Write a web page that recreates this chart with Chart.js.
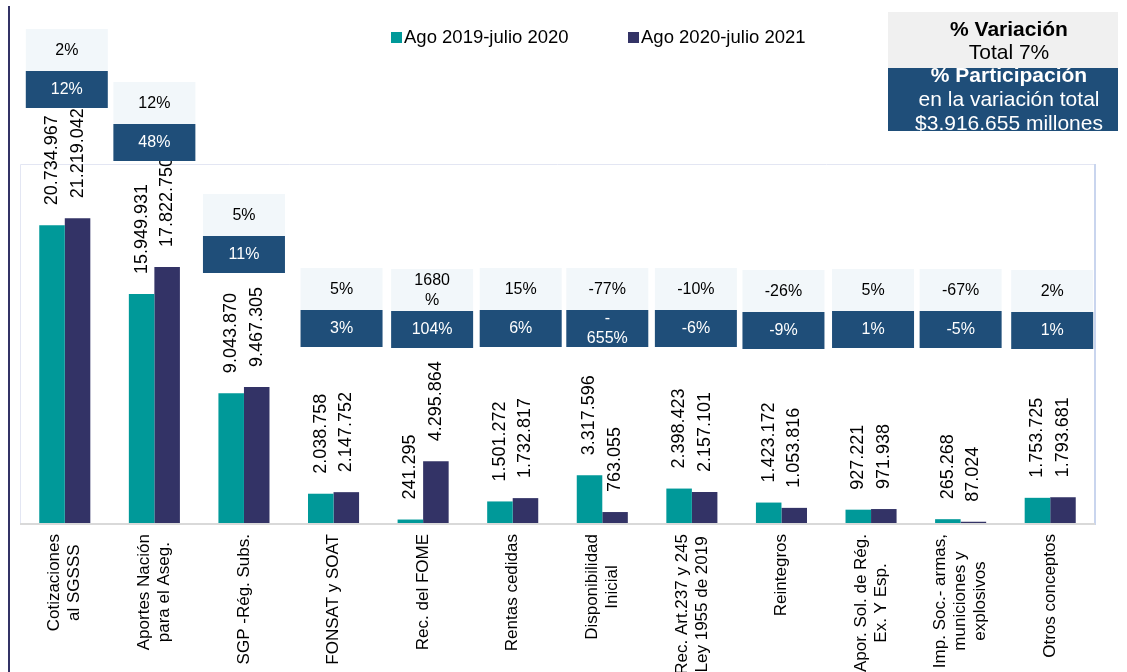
<!DOCTYPE html>
<html>
<head>
<meta charset="utf-8">
<script src="https://cdn.jsdelivr.net/npm/chart.js@4/dist/chart.umd.min.js"></script>
<style>
html,body{margin:0;padding:0;background:#fff;overflow:hidden}
#wrap{width:1127px;height:672px;position:relative}
</style>
</head>
<body>
<div id="wrap"><canvas id="c" width="1127" height="672"></canvas></div>
<script>
// ---- data ----
const categories = [
  ['Cotizaciones','al SGSSS'],
  ['Aportes Nación','para el Aseg.'],
  ['SGP -Rég. Subs.'],
  ['FONSAT y SOAT'],
  ['Rec. del FOME'],
  ['Rentas cedidas'],
  ['Disponibilidad','Inicial'],
  ['Rec. Art.237 y 245','Ley 1955 de 2019'],
  ['Reintegros'],
  ['Apor. Sol. de Rég.','Ex. Y Esp.'],
  ['Imp. Soc.- armas,','municiones y','explosivos'],
  ['Otros conceptos']
];
const seriesNames = ['Ago 2019-julio 2020','Ago 2020-julio 2021'];
const values2019 = [20734967, 15949931, 9043870, 2038758, 241295, 1501272, 3317596, 2398423, 1423172, 927221, 265268, 1753725];
const values2020 = [21219042, 17822750, 9467305, 2147752, 4295864, 1732817, 763055, 2157101, 1053816, 971938, 87024, 1793681];
const variationPct = ['2%','12%','5%','5%','1680\n%','15%','-77%','-10%','-26%','5%','-67%','2%'];
const participationPct = ['12%','48%','11%','3%','104%','6%','-\n655%','-6%','-9%','1%','-5%','1%'];
const summaryVariation = ['% Variación','Total 7%'];
const summaryParticipation = ['% Participación','en la variación total','$3.916.655 millones'];
const yMax = 25000000;

// ---- layout (positions only) ----
const boxTop = [29, 82, 194, 268, 269, 268, 268, 268, 270, 269, 269, 270];
const boxShift = [2, 0, 0, 8, 9, 8, 5, 4, 2, 2, 0, 2];
const FONT = '"Liberation Sans", Arial, sans-serif';
const TEAL = '#009999', NAVY = '#333366', DARKBOX = '#1f4e79', LIGHTBOX = '#f2f7fa';

function fmt(n){ return String(n).replace(/\B(?=(\d{3})+(?!\d))/g,'.'); }

const decor = {
  id: 'decor',
  afterDatasetsDraw(chart){
    const {ctx, chartArea:a, scales:{x}} = chart;
    ctx.save();
    // plot frame
    ctx.lineWidth = 1;
    ctx.strokeStyle = '#e3e6f3';
    ctx.beginPath();
    ctx.moveTo(a.left+0.5, a.bottom); ctx.lineTo(a.left+0.5, a.top+0.5); ctx.lineTo(a.right, a.top+0.5);
    ctx.stroke();
    ctx.strokeStyle = '#c9d5ee'; ctx.lineWidth = 2;
    ctx.beginPath(); ctx.moveTo(a.right, a.top); ctx.lineTo(a.right, a.bottom+2); ctx.stroke();
    ctx.strokeStyle = '#d9d9d9'; ctx.lineWidth = 2;
    ctx.beginPath(); ctx.moveTo(a.left, a.bottom+1); ctx.lineTo(a.right, a.bottom+1); ctx.stroke();
    // left rule
    ctx.strokeStyle = '#333366'; ctx.lineWidth = 2;
    ctx.beginPath(); ctx.moveTo(9, 6); ctx.lineTo(9, 672); ctx.stroke();

    // value labels
    ctx.fillStyle = '#000';
    ctx.font = '18px ' + FONT;
    ctx.textAlign = 'left'; ctx.textBaseline = 'middle';
    chart.data.datasets.forEach((ds, di) => {
      chart.getDatasetMeta(di).data.forEach((bar, i) => {
        ctx.save();
        ctx.translate(bar.x, bar.y - 20);
        ctx.rotate(-Math.PI/2);
        ctx.fillText(fmt(ds.data[i]), 0, 0);
        ctx.restore();
      });
    });

    // category boxes
    ctx.font = '16px ' + FONT;
    ctx.textAlign = 'center'; ctx.textBaseline = 'middle';
    categories.forEach((c, i) => {
      const cx = x.getPixelForValue(i) + boxShift[i];
      const t = boxTop[i];
      ctx.fillStyle = LIGHTBOX; ctx.fillRect(cx-41, t, 82, 42);
      ctx.fillStyle = DARKBOX; ctx.fillRect(cx-41, t+42, 82, 37);
      const l1 = variationPct[i].split('\n');
      ctx.fillStyle = '#000';
      l1.forEach((s, k) => ctx.fillText(s, cx, t + 22 + (k - (l1.length-1)/2)*20));
      const l2 = participationPct[i].split('\n');
      ctx.fillStyle = '#fff';
      l2.forEach((s, k) => ctx.fillText(s, cx, t + 42 + 19 + (k - (l2.length-1)/2)*20));
    });

    // x category labels
    ctx.font = '17px ' + FONT;
    ctx.fillStyle = '#000';
    ctx.textAlign = 'center'; ctx.textBaseline = 'middle';
    categories.forEach((lines, i) => {
      const px = x.getPixelForValue(i);
      const W = Math.max(...lines.map(s => ctx.measureText(s).width));
      const cy = a.bottom + 11 + W/2;
      lines.forEach((s, k) => {
        ctx.save();
        ctx.translate(px + (k - (lines.length-1)/2)*20, cy);
        ctx.rotate(-Math.PI/2);
        ctx.fillText(s, 0, 0);
        ctx.restore();
      });
    });

    // legend
    ctx.font = '18.5px ' + FONT;
    ctx.textAlign = 'left'; ctx.textBaseline = 'middle';
    const legX = [391, 628];
    chart.data.datasets.forEach((ds, di) => {
      ctx.fillStyle = ds.backgroundColor;
      ctx.fillRect(legX[di], 32, 11, 11);
      ctx.fillStyle = '#000';
      ctx.fillText(ds.label, legX[di] + 13, 38);
    });

    // summary box
    ctx.fillStyle = '#f0f0f0'; ctx.fillRect(888, 12, 230, 56);
    ctx.fillStyle = DARKBOX; ctx.fillRect(888, 68, 230, 63);
    ctx.textAlign = 'center'; ctx.textBaseline = 'alphabetic';
    ctx.fillStyle = '#000';
    ctx.font = 'bold 21px ' + FONT; ctx.fillText(summaryVariation[0], 1009, 36);
    ctx.font = '21px ' + FONT; ctx.fillText(summaryVariation[1], 1009, 59);
    ctx.save();
    ctx.beginPath(); ctx.rect(888, 68, 230, 63); ctx.clip();
    ctx.fillStyle = '#fff';
    ctx.font = 'bold 21px ' + FONT; ctx.fillText(summaryParticipation[0], 1009, 82);
    ctx.font = '21px ' + FONT;
    ctx.fillText(summaryParticipation[1], 1009, 106);
    ctx.fillText(summaryParticipation[2], 1009, 130);
    ctx.restore();

    ctx.restore();
  }
};

new Chart(document.getElementById('c').getContext('2d'), {
  type: 'bar',
  data: {
    labels: categories.map(c => c.join(' ')),
    datasets: [
      {label: seriesNames[0], data: values2019, backgroundColor: TEAL, categoryPercentage: 0.57, barPercentage: 1},
      {label: seriesNames[1], data: values2020, backgroundColor: NAVY, categoryPercentage: 0.57, barPercentage: 1}
    ]
  },
  options: {
    responsive: false,
    animation: false,
    layout: {padding: {left: 20, right: 32, top: 164, bottom: 0}},
    plugins: {legend: {display: false}, tooltip: {enabled: false}},
    scales: {
      x: {grid: {display: false}, border: {display: false}, ticks: {display: false},
          afterFit(s){ s.height = 149; }},
      y: {display: false, min: 0, max: yMax}
    }
  },
  plugins: [decor]
});
</script>
</body>
</html>
